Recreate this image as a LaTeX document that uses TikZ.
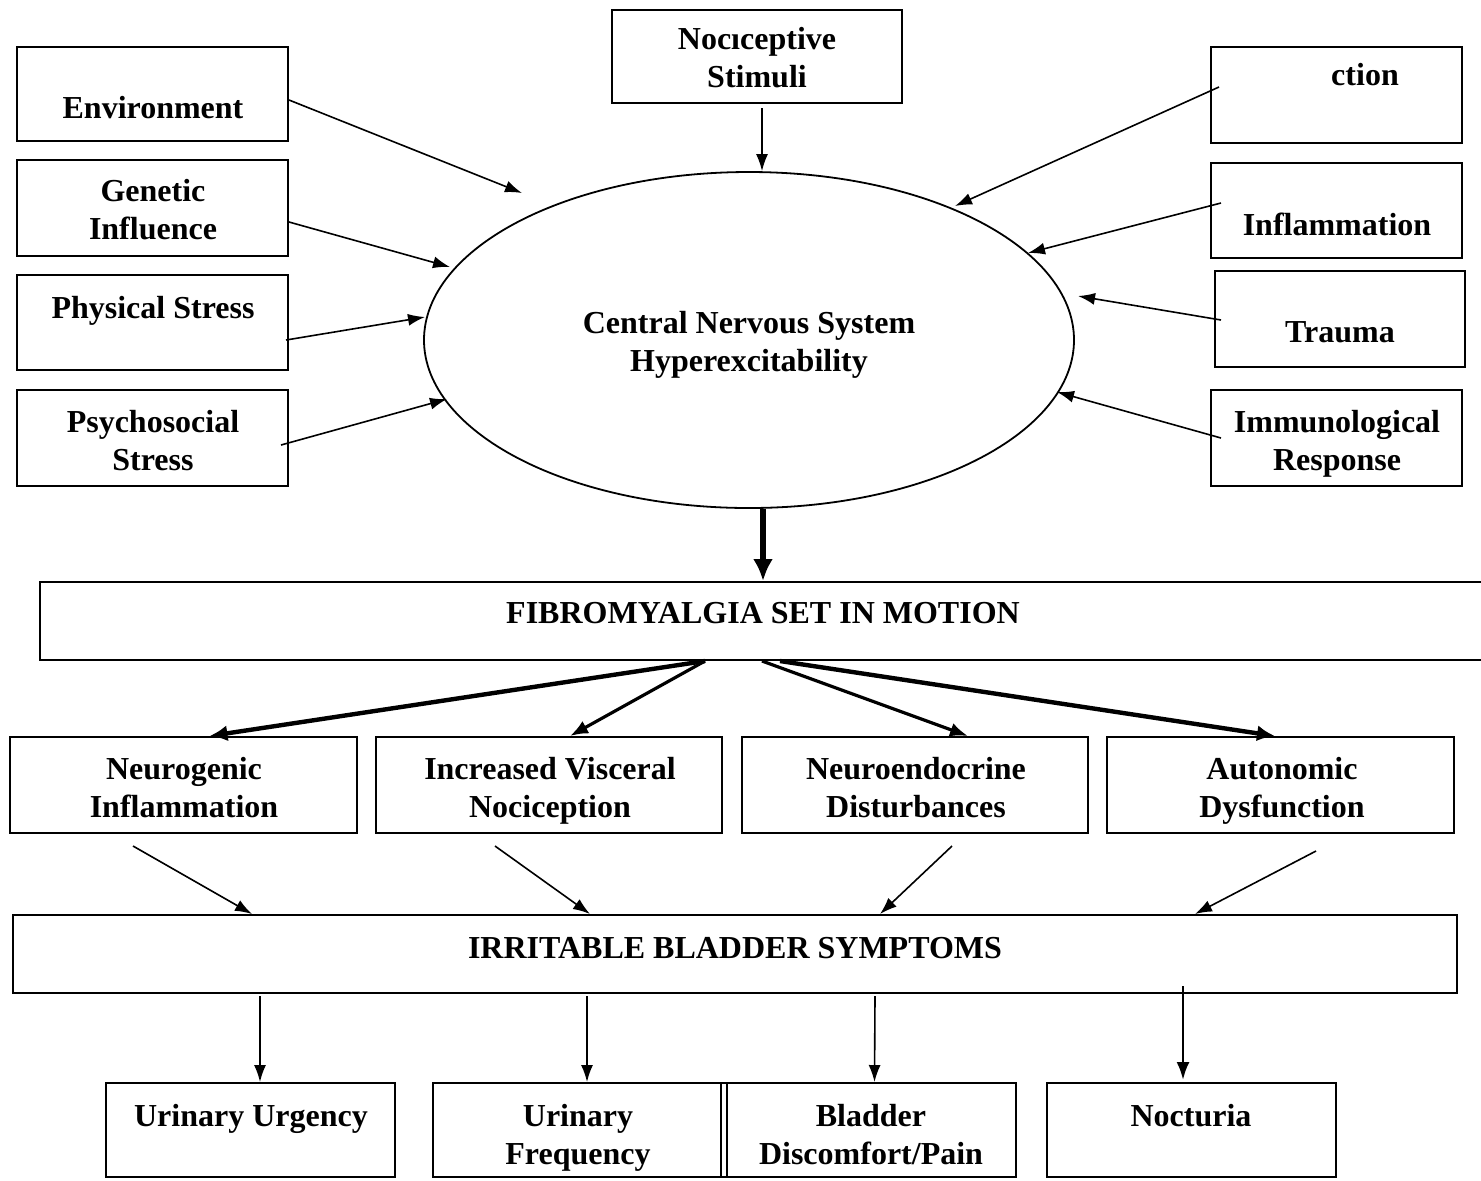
\documentclass[tikz,border=0pt]{standalone}
\usepackage{fontspec}
\setmainfont{Liberation Serif}
\usetikzlibrary{arrows.meta,shapes.geometric}
\tikzset{
  box/.style={draw, line width=1pt, rectangle, inner sep=0pt},
  lbl/.style={font=\fontsize{16}{19}\selectfont\bfseries, align=center, inner sep=0pt},
  arr/.style={line width=0.8pt, -{Latex[length=8.5pt,width=6pt]}},
  arrthick/.style={line width=2.2pt, -{Latex[length=9pt,width=8pt]}},
  arrmid/.style={line width=1.6pt, -{Latex[length=9pt,width=7pt]}},
}
\begin{document}
\begin{tikzpicture}[x=0.5pt,y=-0.5pt]
\useasboundingbox[fill=white] (0,0) rectangle (1481,1180);

% top boxes
\node[box, minimum width=145pt, minimum height=46.5pt] (noci) at (757,56.5) {};
\node[lbl] (nocit) at (757,58) {Nocıceptive\\Stimuli};

\node[box, minimum width=135.5pt, minimum height=47pt] (env) at (152.5,94) {};
\node[lbl] (envt) at (153,108) {Environment};
\node[box, minimum width=135.5pt, minimum height=48pt] (gen) at (152.5,208) {};
\node[lbl] (gent) at (153,210) {Genetic\\Influence};
\node[box, minimum width=135.5pt, minimum height=47.5pt] (phys) at (152.5,322.5) {};
\node[lbl] (physt) at (153,311) {Physical Stress};
\node[box, minimum width=135.5pt, minimum height=48pt] (psy) at (152.5,438) {};
\node[lbl] (psyt) at (153,441) {Psychosocial\\Stress};

\node[box, minimum width=125.5pt, minimum height=48pt] (inf1) at (1336.5,95) {};
\node[lbl] (inf1t) at (1365,75) {ction};
\node[box, minimum width=125.5pt, minimum height=47.5pt] (infl) at (1336.5,210.5) {};
\node[lbl] (inflt) at (1337,224) {Inflammation};
\node[box, minimum width=125pt, minimum height=48pt] (trau) at (1340,319) {};
\node[lbl] (traut) at (1340,332) {Trauma};
\node[box, minimum width=125.5pt, minimum height=48pt] (imm) at (1336.5,438) {};
\node[lbl] (immt) at (1337,444) {Immunological\\Response};

% central ellipse
\node[draw, line width=0.9pt, ellipse, minimum width=325pt, minimum height=168pt, inner sep=0pt] (cns) at (749,340) {};
\node[lbl] (cnst) at (749,345) {Central Nervous System\\Hyperexcitability};

% free arrow ends near the ellipse
\coordinate (c1) at (522,193);
\coordinate (c2) at (450,267);
\coordinate (c3) at (425,317);
\coordinate (c4) at (447,399);
\coordinate (c5) at (955,206);
\coordinate (c6) at (1028,253);
\coordinate (c7) at (1078,296);
\coordinate (c8) at (1057,392);

\draw[arr] ([yshift=-3pt]env.east) -- (c1);
\draw[arr] ([yshift=-7pt]gen.east) -- (c2);
\draw[arr] ([xshift=-1.5pt,yshift=-8.75pt]phys.east) -- (c3);
\draw[arr] ([xshift=-4pt,yshift=-3.5pt]psy.east) -- (c4);
\draw[arr] ([xshift=4.5pt,yshift=4pt]inf1.west) -- (c5);
\draw[arr] ([xshift=5.5pt,yshift=3.75pt]infl.west) -- (c6);
\draw[arr] ([xshift=3.5pt,yshift=-0.5pt]trau.west) -- (c7);
\draw[arr] ([xshift=5.5pt]imm.west) -- (c8);
\draw[arr] ([xshift=2.5pt,yshift=-2pt]noci.south) -- ([xshift=6.5pt]cns.north);

% fibromyalgia
\node[box, minimum width=730pt, minimum height=39pt] (fib) at (770,621) {};
\node[lbl] (fibt) at (763,613) {FIBROMYALGIA SET IN MOTION};
\draw[line width=2.6pt, -{Latex[length=11pt,width=10pt]}] ([xshift=7pt]cns.south) -- ([xshift=-3.5pt]fib.north);

% second row
\node[box, minimum width=173.5pt, minimum height=48pt] (neu) at (183.5,785) {};
\node[lbl] (neut) at (184,788) {Neurogenic\\Inflammation};
\node[box, minimum width=173pt, minimum height=48pt] (vis) at (549,785) {};
\node[lbl] (vist) at (550,791) {Increased Visceral\\Nociception};
\node[box, minimum width=173pt, minimum height=48pt] (endo) at (915,785) {};
\node[lbl] (endot) at (916,788) {Neuroendocrine\\Disturbances};
\node[box, minimum width=173.5pt, minimum height=48pt] (auto) at (1280.5,785) {};
\node[lbl] (autot) at (1282,791) {Autonomic\\Dysfunction};

\draw[arrthick] ([xshift=-32.5pt]fib.south) -- ([xshift=13pt]neu.north);
\draw[arrmid] ([xshift=-32.5pt]fib.south) -- ([xshift=10.5pt]vis.north);
\draw[arrmid] ([xshift=-4pt]fib.south) -- ([xshift=26.5pt]endo.north);
\draw[arrthick] ([xshift=5pt]fib.south) -- ([xshift=-2.75pt]auto.north);

% irritable bladder symptoms
\node[box, minimum width=722pt, minimum height=39pt] (ibs) at (735,954) {};
\node[lbl] (ibst) at (735,948) {IRRITABLE BLADDER SYMPTOMS};

\draw[arr] ([xshift=-25.25pt,yshift=-6pt]neu.south) -- ([xshift=-241.5pt]ibs.north);
\draw[arr] ([xshift=-27pt,yshift=-6pt]vis.south) -- ([xshift=-72.5pt]ibs.north);
\draw[arr] ([xshift=18.5pt,yshift=-6pt]endo.south) -- ([xshift=72.5pt]ibs.north);
\draw[arr] ([xshift=17.75pt,yshift=-8.5pt]auto.south) -- ([xshift=230pt]ibs.north);

% bottom row
\node[box, minimum width=144.5pt, minimum height=47pt] (urg) at (250.5,1130) {};
\node[lbl] (urgt) at (251,1119) {Urinary Urgency};
\node[box, minimum width=291.5pt, minimum height=47pt] (mid) at (724.5,1130) {};
\draw[line width=1pt] ([xshift=-1.75pt]mid.north) -- ([xshift=-1.75pt]mid.south);
\draw[line width=1pt] ([xshift=1.25pt]mid.north) -- ([xshift=1.25pt]mid.south);
\node[lbl] (freqt) at (578,1138) {Urinary\\Frequency};
\node[lbl] (bladt) at (871,1135) {Bladder\\Discomfort/Pain};
\node[box, minimum width=144.5pt, minimum height=47pt] (noc) at (1191.5,1130) {};
\node[lbl] (noct) at (1191,1116) {Nocturia};

\draw[arr] ([xshift=-237.5pt,yshift=-1pt]ibs.south) -- ([xshift=4.75pt]urg.north);
\draw[arr] ([xshift=-74pt,yshift=-1pt]ibs.south) -- ([xshift=-68.75pt]mid.north);
\draw[arr] ([xshift=70pt,yshift=-1pt]ibs.south) -- ([xshift=75pt]mid.north);
\draw[line width=1.3pt, -{Latex[length=9pt,width=6.5pt]}] ([xshift=224pt,yshift=4pt]ibs.south) -- ([xshift=-4.25pt,yshift=1pt]noc.north);
\end{tikzpicture}
\end{document}
